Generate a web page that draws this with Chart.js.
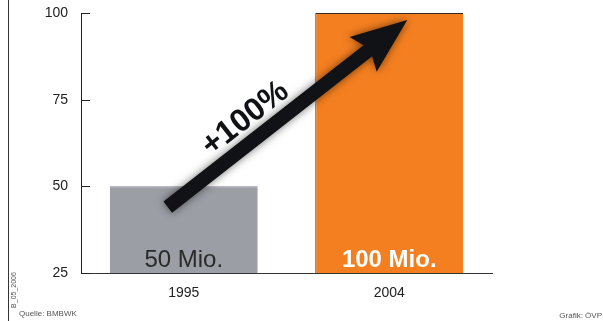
<!DOCTYPE html>
<html>
<head>
<meta charset="utf-8">
<script src="https://cdn.jsdelivr.net/npm/chart.js@4.4.1/dist/chart.umd.min.js"></script>
<style>
  html, body { margin: 0; padding: 0; background: #fff; }
  #wrap { width: 603px; height: 321px; position: relative; }
</style>
</head>
<body>
<div id="wrap"><canvas id="chart"></canvas></div>
<script>
// Schüler numbers, in millions
const years = ['1995', '2004'];
const values = [50, 100];
const barLabels = ['50 Mio.', '100 Mio.'];
const yTicks = [25, 50, 75, 100];
const growthLabel = '+100%';

const FONT = '"Liberation Sans", Arial, Helvetica, sans-serif';

// frame, inward ticks, bar captions, arrow and footnotes
const decorations = {
  id: 'decorations',
  beforeDraw(chart) {
    const ctx = chart.ctx;
    ctx.save();
    ctx.strokeStyle = '#333';
    ctx.lineWidth = 1;
    ctx.beginPath();
    ctx.moveTo(8.5, 0);
    ctx.lineTo(8.5, chart.height);
    ctx.stroke();
    ctx.restore();
  },
  afterDraw(chart) {
    const ctx = chart.ctx;
    const xs = chart.scales.x;
    const ys = chart.scales.y;
    ctx.save();

    // inward tick marks on the y axis
    ctx.strokeStyle = '#222';
    ctx.lineWidth = 1;
    yTicks.forEach(v => {
      const y = Math.round(ys.getPixelForValue(v)) + 0.5;
      ctx.beginPath();
      ctx.moveTo(xs.left, y);
      ctx.lineTo(xs.left + 9, y);
      ctx.stroke();
    });

    // captions inside the bars
    ctx.textAlign = 'center';
    ctx.textBaseline = 'alphabetic';
    const base = ys.getPixelForValue(25) - 6;
    ctx.font = '24px ' + FONT;
    ctx.fillStyle = '#2a2a2a';
    ctx.fillText(barLabels[0], xs.getPixelForValue(0), base);
    ctx.font = 'bold 24px ' + FONT;
    ctx.fillStyle = '#ffffff';
    ctx.fillText(barLabels[1], xs.getPixelForValue(1), base);

    // growth arrow from the first bar to the second
    const x0 = xs.getPixelForValue(0) - 16, y0 = ys.getPixelForValue(44);
    const x1 = xs.getPixelForValue(1) + 18, y1 = ys.getPixelForValue(98);
    const ang = Math.atan2(y1 - y0, x1 - x0);
    const len = Math.hypot(x1 - x0, y1 - y0);
    ctx.translate(x0, y0);
    ctx.rotate(ang);
    ctx.shadowColor = 'rgba(0,0,0,0.55)';
    ctx.shadowBlur = 8;
    ctx.fillStyle = '#111216';
    const headLen = 50, headHalf = 22, shaft = 7;
    ctx.beginPath();
    ctx.moveTo(0, -shaft);
    ctx.lineTo(len - headLen, -shaft);
    ctx.lineTo(len - headLen - 6, -headHalf);
    ctx.lineTo(len, 0);
    ctx.lineTo(len - headLen - 6, headHalf);
    ctx.lineTo(len - headLen, shaft);
    ctx.lineTo(0, shaft);
    ctx.closePath();
    ctx.fill();
    ctx.shadowBlur = 0;
    ctx.shadowColor = 'transparent';

    // percentage label above the shaft
    ctx.font = 'bold 32px ' + FONT;
    ctx.fillStyle = '#111216';
    ctx.textAlign = 'center';
    ctx.textBaseline = 'alphabetic';
    ctx.fillText(growthLabel, len * 0.38, -13);
    ctx.restore();

    // footnotes
    ctx.save();
    ctx.fillStyle = '#555';
    ctx.font = '8px ' + FONT;
    ctx.textBaseline = 'middle';
    ctx.textAlign = 'left';
    ctx.fillText('Quelle: BMBWK', 19, 314);
    ctx.textAlign = 'right';
    ctx.fillText('Grafik: ÖVP', 602, 316);
    ctx.translate(14, 290);
    ctx.rotate(-Math.PI / 2);
    ctx.textAlign = 'center';
    ctx.font = '7px ' + FONT;
    ctx.fillText('B_05_2006', 0, 0);
    ctx.restore();
  }
};

new Chart(document.getElementById('chart'), {
  type: 'bar',
  data: {
    labels: years,
    datasets: [{
      data: values,
      backgroundColor: ['#9b9ea5', '#f47f20'],
      borderColor: ['#808288', '#3a2b22'],
      borderWidth: [{ top: 1 }, { top: 1, left: 1 }],
      borderSkipped: 'bottom',
      categoryPercentage: 1,
      barPercentage: 0.72
    }]
  },
  options: {
    responsive: true,
    maintainAspectRatio: false,
    animation: false,
    layout: { padding: { top: 13, right: 111, left: 0, bottom: 0 } },
    plugins: { legend: { display: false }, tooltip: { enabled: false } },
    scales: {
      x: {
        grid: { display: false, drawTicks: false },
        border: { display: true, color: '#333', width: 1 },
        ticks: { color: '#222', font: { family: FONT, size: 14 }, padding: 12 },
        afterFit(scale) {
          scale.height = 48;
          scale.paddingLeft = 0;
          scale.paddingRight = 0;
        }
      },
      y: {
        min: 25,
        max: 100,
        afterBuildTicks(scale) { scale.ticks = yTicks.map(v => ({ value: v })); },
        grid: { display: false, drawTicks: false },
        border: { display: true, color: '#222', width: 1 },
        ticks: { color: '#222', font: { family: FONT, size: 14 }, padding: 13 },
        afterFit(scale) {
          scale.width = 81;
          scale.paddingTop = 0;
          scale.paddingBottom = 0;
        }
      }
    }
  },
  plugins: [decorations]
});
</script>
</body>
</html>
